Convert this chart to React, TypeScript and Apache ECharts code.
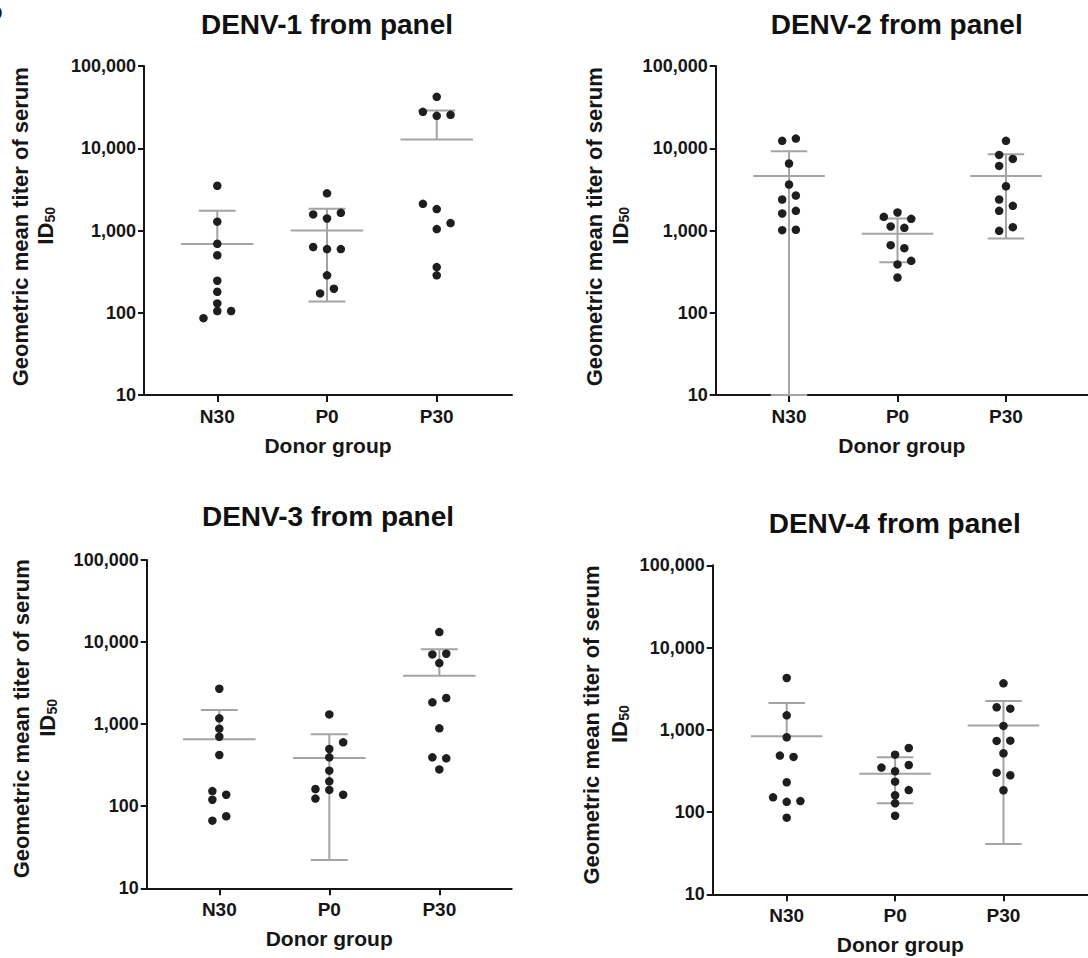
import React, { useEffect, useRef } from 'react';
import * as echarts from 'echarts';

// ---------- data ----------
const categories = ['N30', 'P0', 'P30'];
const panelTitles = ['DENV-1 from panel', 'DENV-2 from panel', 'DENV-3 from panel', 'DENV-4 from panel'];
const xAxisTitle = 'Donor group';
const yAxisTitleLine1 = 'Geometric mean titer of serum';
const yAxisTitleMain = 'ID';
const yAxisTitleSub = '50';
const yMin = 10;
const yMax = 100000;

// DENV-1
const denv1N30 = [3500, 1280, 690, 500, 245, 180, 130, 105, 105, 86];
const denv1N30Slots = [0, 0, 0, 0, 0, 0, 0, 0, 2, -2];
const denv1P0 = [2830, 1570, 1640, 1400, 630, 594, 594, 285, 196, 172];
const denv1P0Slots = [0, -2, 2, 0, -2, 0, 2, 0, 1, -1];
const denv1P30 = [42200, 27700, 24800, 25500, 2110, 1820, 1230, 1040, 359, 285];
const denv1P30Slots = [0, -2, 0, 2, -2, 0, 2, 0, 0, 0];
const denv1Gm = [684, 1002, 12800];
const denv1Upper = [1735, 1838, 28800];
const denv1Lower = [null, 137, null];

// DENV-2
const denv2N30 = [13100, 12300, 6520, 3620, 2660, 2380, 1735, 1610, 1010, 1020];
const denv2N30Slots = [1, -1, 0, 0, 1, -1, 1, -1, -1, 1];
const denv2P0 = [1656, 1466, 1386, 1119, 1077, 663, 610, 428, 387, 268];
const denv2P0Slots = [0, -2, 2, -1, 1, -1, 1, 2, 0, 0];
const denv2P30 = [12300, 8300, 7420, 6100, 3450, 2380, 1995, 1735, 1097, 990];
const denv2P30Slots = [0, -1, 1, -1, 0, -1, 1, -1, 1, -1];
const denv2Gm = [4610, 912, 4610];
const denv2Upper = [9200, 1400, 8450];
const denv2Lower = [10, 412, 800];

// DENV-3
const denv3N30 = [2700, 1178, 881, 703, 421, 153, 138, 120, 75.4, 66.7];
const denv3N30Slots = [0, 0, 0, 0, 0, -1, 1, -1, 1, -1];
const denv3P0 = [1315, 600, 498, 394, 271, 201, 162, 158, 138, 124];
const denv3P0Slots = [0, 2, 0, 0, 0, 0, -2, 0, 2, -2];
const denv3P30 = [13240, 7080, 7210, 5550, 1845, 2080, 889, 394, 383, 281];
const denv3P30Slots = [0, -1, 1, 0, -1, 1, 0, -1, 1, 0];
const denv3Gm = [653, 387, 3890];
const denv3Upper = [1486, 751, 8150];
const denv3Lower = [null, 22.1, null];

// DENV-4
const denv4N30 = [4270, 1500, 811, 486, 468, 230, 151, 136, 133, 85.5];
const denv4N30Slots = [0, 0, 0, -1, 1, 0, -2, 2, 0, 0];
const denv4P0 = [601, 499, 373, 347, 313, 234, 185, 160, 128, 90.3];
const denv4P0Slots = [2, 0, 2, -2, 0, 0, 2, 0, 0, 0];
const denv4P30 = [3670, 1878, 1809, 1114, 732, 738, 518, 301, 280, 184];
const denv4P30Slots = [0, -1, 1, 0, -1, 1, 0, -1, 1, 0];
const denv4Gm = [834, 293, 1124];
const denv4Upper = [2118, 463, 2244];
const denv4Lower = [null, 128, 40.9];

const panelValues = [
  [denv1N30, denv1P0, denv1P30],
  [denv2N30, denv2P0, denv2P30],
  [denv3N30, denv3P0, denv3P30],
  [denv4N30, denv4P0, denv4P30],
];
const panelSlots = [
  [denv1N30Slots, denv1P0Slots, denv1P30Slots],
  [denv2N30Slots, denv2P0Slots, denv2P30Slots],
  [denv3N30Slots, denv3P0Slots, denv3P30Slots],
  [denv4N30Slots, denv4P0Slots, denv4P30Slots],
];
const panelGm = [denv1Gm, denv2Gm, denv3Gm, denv4Gm];
const panelUpper = [denv1Upper, denv2Upper, denv3Upper, denv4Upper];
const panelLower = [denv1Lower, denv2Lower, denv3Lower, denv4Lower];

// ---------- layout ----------
const layouts = [
  { left: 144, top: 66, width: 368, height: 329, xMin: -0.668, xMax: 2.686, tx: 327, ty: 24, y1x: 20.7, y2x: 45.7, yc: 226.7 },
  { left: 715.7, top: 66, width: 372.3, height: 329, xMin: -0.676, xMax: 2.756, tx: 896.7, ty: 24, y1x: 594, y2x: 620.3, yc: 226.7 },
  { left: 146.7, top: 560, width: 365, height: 328.3, xMin: -0.66, xMax: 2.658, tx: 328, ty: 516.7, y1x: 21.3, y2x: 47.5, yc: 718.8 },
  { left: 712.7, top: 565.3, width: 375.3, height: 329, xMin: -0.683, xMax: 2.78, tx: 894.7, ty: 523.3, y1x: 591.7, y2x: 619.5, yc: 725 },
];

const FONT = '"Liberation Sans", Arial, Helvetica, sans-serif';
const INK = '#161616';
const BAR = '#a4a4a4';
const DOT = '#1e1e1e';
const JITTER_STEP = 0.063;
const MEAN_HALF = 0.33;
const CAP_HALF = 0.168;

function buildOption() {
  const grid: any[] = [];
  const xAxis: any[] = [];
  const yAxis: any[] = [];
  const series: any[] = [];
  const graphic: any[] = [];

  layouts.forEach((L, p) => {
    grid.push({ left: L.left, top: L.top, width: L.width, height: L.height, containLabel: false });
    xAxis.push({
      type: 'value',
      gridIndex: p,
      min: L.xMin,
      max: L.xMax,
      axisLine: { show: true, onZero: false, lineStyle: { color: INK, width: 2 } },
      axisTick: { show: true, customValues: [0, 1, 2], length: 7, lineStyle: { color: INK, width: 2 } },
      axisLabel: {
        customValues: [0, 1, 2],
        formatter: (v: number) => categories[Math.round(v)] ?? '',
        fontSize: 19,
        fontWeight: 'bold',
        fontFamily: FONT,
        color: INK,
        margin: 12,
      },
      splitLine: { show: false },
      name: xAxisTitle,
      nameLocation: 'middle',
      nameGap: 40,
      nameTextStyle: { fontSize: 21, fontWeight: 'bold', fontFamily: FONT, color: INK },
    });
    yAxis.push({
      type: 'log',
      logBase: 10,
      gridIndex: p,
      min: yMin,
      max: yMax,
      axisLine: { show: true, onZero: false, lineStyle: { color: INK, width: 2 } },
      axisTick: { show: true, length: 6, lineStyle: { color: INK, width: 2 } },
      axisLabel: {
        formatter: (v: number) => Math.round(v).toLocaleString('en-US'),
        fontSize: 18,
        fontWeight: 'bold',
        fontFamily: FONT,
        color: INK,
        margin: 8,
      },
      splitLine: { show: false },
      minorTick: { show: false },
    });

    // error bars and geometric mean lines
    const barData = categories.map((_, g) => [g, panelGm[p][g], panelUpper[p][g], panelLower[p][g] ?? -1]);
    series.push({
      type: 'custom',
      xAxisIndex: p,
      yAxisIndex: p,
      z: 3,
      encode: { x: 0, y: 1 },
      data: barData,
      renderItem: (params: any, api: any) => {
        const x = api.value(0);
        const gm = api.value(1);
        const up = api.value(2);
        const lo = api.value(3);
        const style = { stroke: BAR, lineWidth: 2 };
        const m = api.coord([x, gm]);
        const mL = api.coord([x - MEAN_HALF, gm]);
        const mR = api.coord([x + MEAN_HALF, gm]);
        const u = api.coord([x, up]);
        const uL = api.coord([x - CAP_HALF, up]);
        const uR = api.coord([x + CAP_HALF, up]);
        const children: any[] = [
          { type: 'line', shape: { x1: mL[0], y1: mL[1], x2: mR[0], y2: mR[1] }, style },
          { type: 'line', shape: { x1: m[0], y1: m[1], x2: u[0], y2: u[1] }, style },
          { type: 'line', shape: { x1: uL[0], y1: uL[1], x2: uR[0], y2: uR[1] }, style },
        ];
        if (lo > 0) {
          const d = api.coord([x, lo]);
          const dL = api.coord([x - CAP_HALF, lo]);
          const dR = api.coord([x + CAP_HALF, lo]);
          children.push({ type: 'line', shape: { x1: m[0], y1: m[1], x2: d[0], y2: d[1] }, style });
          children.push({ type: 'line', shape: { x1: dL[0], y1: dL[1], x2: dR[0], y2: dR[1] }, style });
        }
        return { type: 'group', children };
      },
    });

    // individual points
    const pts: number[][] = [];
    panelValues[p].forEach((vals, g) => {
      vals.forEach((v, i) => pts.push([g + panelSlots[p][g][i] * JITTER_STEP, v]));
    });
    series.push({
      type: 'scatter',
      xAxisIndex: p,
      yAxisIndex: p,
      z: 4,
      symbol: 'circle',
      symbolSize: 8.5,
      itemStyle: { color: DOT, opacity: 1 },
      data: pts,
    });

    // titles
    graphic.push({
      type: 'text',
      x: L.tx,
      y: L.ty,
      style: { text: panelTitles[p], align: 'center', verticalAlign: 'middle', fontSize: 28, fontWeight: 'bold', fontFamily: FONT, fill: '#111' },
    });
    graphic.push({
      type: 'text',
      x: L.y1x,
      y: L.yc,
      rotation: Math.PI / 2,
      style: { text: yAxisTitleLine1, align: 'center', verticalAlign: 'middle', fontSize: 22, fontWeight: 'bold', fontFamily: FONT, fill: INK },
    });
    graphic.push({
      type: 'text',
      x: L.y2x,
      y: L.yc + 7,
      rotation: Math.PI / 2,
      style: { text: yAxisTitleMain, align: 'center', verticalAlign: 'middle', fontSize: 22, fontWeight: 'bold', fontFamily: FONT, fill: INK },
    });
    graphic.push({
      type: 'text',
      x: L.y2x + 4,
      y: L.yc - 12,
      rotation: Math.PI / 2,
      style: { text: yAxisTitleSub, align: 'center', verticalAlign: 'middle', fontSize: 14, fontWeight: 'bold', fontFamily: FONT, fill: INK },
    });
  });

  // panel letter, cut off at the top-left corner as in the reference
  graphic.push({
    type: 'text',
    x: 2.5,
    y: 13,
    style: { text: 'D', align: 'right', verticalAlign: 'middle', fontSize: 20, fontWeight: 'bold', fontFamily: FONT, fill: INK },
  });

  return {
    animation: false,
    backgroundColor: '#ffffff',
    grid,
    xAxis,
    yAxis,
    series,
    graphic,
  };
}

export default function App() {
  const ref = useRef<HTMLDivElement>(null);
  useEffect(() => {
    if (!ref.current) return;
    const chart = echarts.init(ref.current, undefined, { renderer: 'svg' });
    chart.setOption(buildOption() as any);
    return () => chart.dispose();
  }, []);
  return (
    <div
      ref={ref}
      style={{ position: 'absolute', left: 0, top: 0, width: 1088, height: 958, background: '#fff' }}
    />
  );
}
